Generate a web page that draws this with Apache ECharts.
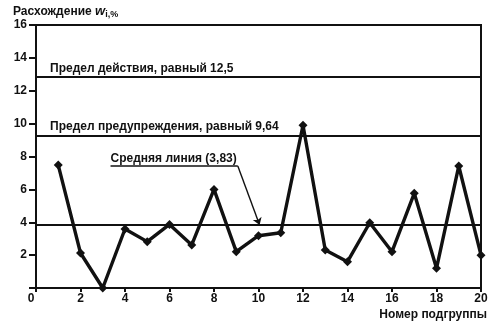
<!DOCTYPE html>
<html>
<head>
<meta charset="utf-8">
<script src="https://cdn.jsdelivr.net/npm/echarts@6/dist/echarts.min.js"></script>
<style>
html,body{margin:0;padding:0;background:#fff;}
#chart{width:498px;height:330px;}
</style>
</head>
<body>
<div id="chart"></div>
<script>
// Subgroup numbers and discrepancy values w_i, %
const subgroups = [1,2,3,4,5,6,7,8,9,10,11,12,13,14,15,16,17,18,19,20];
const discrepancy = [7.48,2.13,0.0,3.59,2.82,3.87,2.62,6.0,2.21,3.18,3.36,9.9,2.31,1.6,3.97,2.21,5.76,1.2,7.42,2.0];
// Reference lines (positions as drawn in the picture) and their labels
const actionLimit = 12.85;
const warningLimit = 9.25;
const meanLine = 3.83;
const actionLabel = 'Предел действия, равный 12,5';
const warningLabel = 'Предел предупреждения, равный 9,64';
const meanLabel = 'Средняя линия (3,83)';
// Callout path for the mean-line label (data coordinates)
const calloutX = [3.35, 9.07, 10.05];
const calloutY = [7.42, 7.42, 3.83];
// Axis ticks
const xTicks = [0,2,4,6,8,10,12,14,16,18,20];
const yTicks = [0,2,4,6,8,10,12,14,16];

const FONT = '"Liberation Sans", Arial, sans-serif';
const INK = '#111';

const chart = echarts.init(document.getElementById('chart'), null, {renderer:'canvas'});
const lblStyle = {color: INK, fontFamily: FONT, fontWeight: 'bold', fontSize: 12};

chart.setOption({
  animation: false,
  backgroundColor: '#fff',
  title: {
    left: 13, top: 4, padding: 0,
    text: '{a|Расхождение }{w|w}{s|i,%}',
    textStyle: {
      rich: {
        a: {color: INK, fontFamily: FONT, fontWeight: 'bold', fontSize: 12},
        w: {color: INK, fontFamily: FONT, fontWeight: 'bold', fontStyle: 'italic', fontSize: 13},
        s: {color: INK, fontFamily: FONT, fontWeight: 'bold', fontSize: 9, padding: [6,0,0,0]}
      }
    }
  },
  grid: {left: 36, right: 17, top: 25, bottom: 42, show: true, borderColor: INK, borderWidth: 2},
  xAxis: {
    type: 'value', min: xTicks[0], max: xTicks[xTicks.length-1], interval: 2,
    name: 'Номер подгруппы', nameLocation: 'end', nameGap: 6,
    nameTextStyle: {color: INK, fontFamily: FONT, fontWeight: 'bold', fontSize: 12, align: 'right', verticalAlign: 'top', padding: [21,0,0,0]},
    axisLine: {lineStyle: {color: INK, width: 2}},
    axisTick: {length: 4, lineStyle: {color: INK, width: 2}},
    axisLabel: {
      margin: 5, color: INK, fontFamily: FONT, fontWeight: 'bold', fontSize: 12,
      formatter: v => v === 0 ? '{z|0}' : String(v),
      rich: {z: {color: INK, fontFamily: FONT, fontWeight: 'bold', fontSize: 12, padding: [0,10,0,0]}}
    },
    splitLine: {show: false}
  },
  yAxis: {
    type: 'value', min: yTicks[0], max: yTicks[yTicks.length-1], interval: 2,
    axisLine: {show: true, lineStyle: {color: INK, width: 2}},
    axisTick: {show: true, length: 7, lineStyle: {color: INK, width: 2}},
    axisLabel: {
      margin: 9, color: INK, fontFamily: FONT, fontWeight: 'bold', fontSize: 12,
      formatter: v => v === 0 ? '' : String(v)
    },
    splitLine: {show: false}
  },
  series: [{
    type: 'line',
    data: subgroups.map((x, i) => [x, discrepancy[i]]),
    symbol: 'diamond', symbolSize: 9,
    lineStyle: {color: INK, width: 3.4},
    itemStyle: {color: INK},
    z: 5,
    markLine: {
      silent: true,
      symbol: 'none',
      lineStyle: {color: INK, type: 'solid'},
      data: [
        {yAxis: actionLimit, lineStyle: {width: 2},
         label: Object.assign({show: true, position: 'insideStartTop', formatter: actionLabel, distance: [14, 2]}, lblStyle)},
        {yAxis: warningLimit, lineStyle: {width: 2},
         label: Object.assign({show: true, position: 'insideStartTop', formatter: warningLabel, distance: [14, 3]}, lblStyle)},
        {yAxis: meanLine, lineStyle: {width: 2}, label: {show: false}},
        [{coord: [calloutX[0], calloutY[0]], lineStyle: {width: 1.6},
          label: Object.assign({show: true, position: 'insideStartTop', formatter: meanLabel, distance: [0, 1]}, lblStyle)},
         {coord: [calloutX[1], calloutY[1]]}],
        [{coord: [calloutX[1], calloutY[1]], lineStyle: {width: 1.4}, label: {show: false}, symbol: 'none'},
         {coord: [calloutX[2], calloutY[2]], symbol: 'arrow', symbolSize: 7}]
      ]
    }
  }]
});
</script>
</body>
</html>
